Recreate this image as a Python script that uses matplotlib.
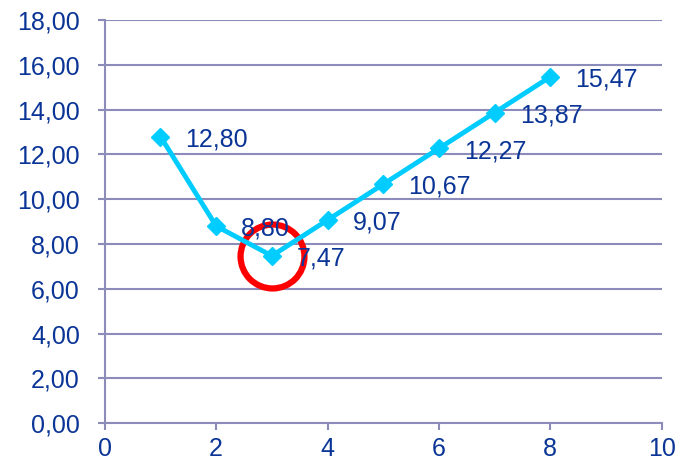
import matplotlib.pyplot as plt
from matplotlib.ticker import FuncFormatter

x = [1, 2, 3, 4, 5, 6, 7, 8]
y = [12.80, 8.80, 7.47, 9.07, 10.67, 12.27, 13.87, 15.47]
labels = ["12,80", "8,80", "7,47", "9,07", "10,67", "12,27", "13,87", "15,47"]
highlight = 2  # index of the minimum, circled in red

txt = '#0A3596'
grid = '#8C8CBA'
line = '#00CCFF'

plt.rcParams['font.family'] = ['Liberation Sans', 'DejaVu Sans']

fig = plt.figure(figsize=(6.85, 4.68), dpi=100)
ax = fig.add_axes([0.153, 0.096, 0.813, 0.861])

ax.plot(x, y, color=line, lw=3.5, marker='D', ms=9, zorder=3)
ax.plot(x[highlight], y[highlight], marker='o', ms=46, mfc='none',
        mec='#FF0000', mew=4.5, zorder=2)
for xi, yi, lab in zip(x, y, labels):
    ax.annotate(lab, (xi, yi), xytext=(18, -2), textcoords='offset points',
                ha='left', va='center', fontsize=18, color=txt, zorder=4)

ax.set_xlim(0, 10)
ax.set_ylim(0, 18)
ax.set_xticks(range(0, 11, 2))
ax.set_yticks(range(0, 19, 2))
ax.yaxis.set_major_formatter(FuncFormatter(lambda v, p: f"{v:.2f}".replace('.', ',')))
ax.grid(axis='y', color=grid, lw=1.5)
ax.set_axisbelow(True)
for s in ['top', 'right']:
    ax.spines[s].set_visible(False)
for s in ['left', 'bottom']:
    ax.spines[s].set_color(grid)
    ax.spines[s].set_linewidth(1.5)
ax.tick_params(colors=grid, labelcolor=txt, labelsize=18, length=5, width=1.5)
ax.tick_params(axis='x', pad=5)
ax.tick_params(axis='y', pad=13)

fig.savefig('out.png', dpi=100)
